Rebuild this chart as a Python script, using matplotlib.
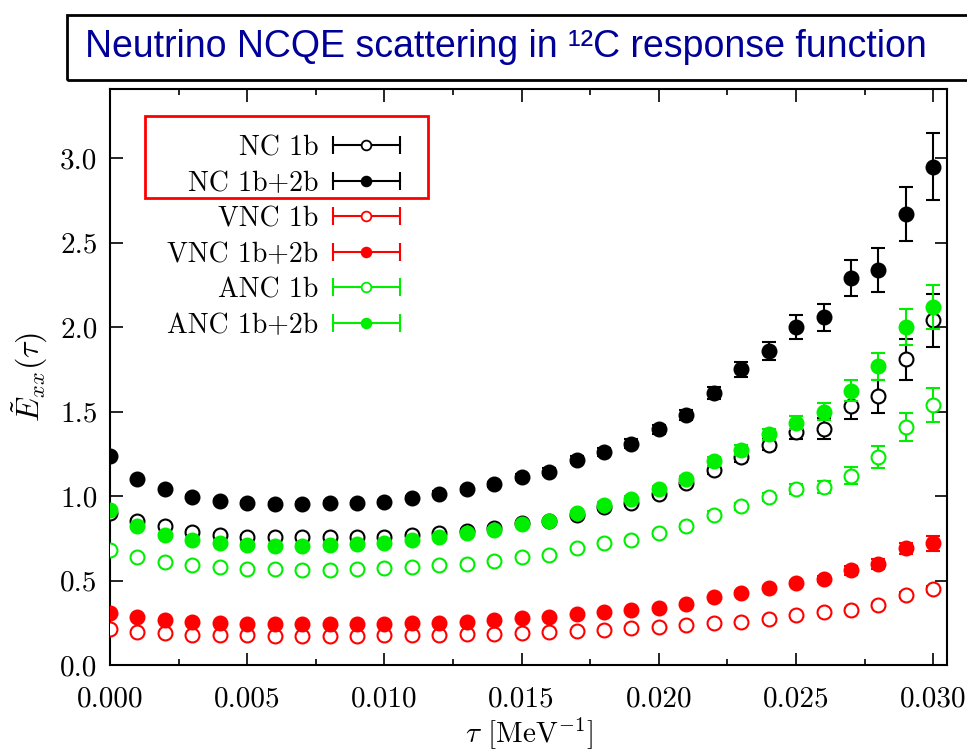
import matplotlib
matplotlib.use('Agg')
import matplotlib.pyplot as plt
from matplotlib.lines import Line2D
from matplotlib.patches import Rectangle
from matplotlib.legend_handler import HandlerLine2D
from matplotlib.ticker import MultipleLocator, FormatStrFormatter

plt.rcParams['font.family'] = 'serif'
plt.rcParams['font.serif'] = ['cmr10']
plt.rcParams['mathtext.fontset'] = 'cm'
plt.rcParams['axes.unicode_minus'] = False
plt.rcParams['axes.formatter.use_mathtext'] = True

tau = [i / 1000 for i in range(31)]

nc_1b = [0.90, 0.855, 0.82, 0.79, 0.77, 0.76, 0.757, 0.757, 0.757, 0.76, 0.76,
         0.77, 0.78, 0.795, 0.81, 0.84, 0.855, 0.89, 0.935, 0.96, 1.01,
         1.08, 1.155, 1.23, 1.305, 1.38, 1.40, 1.535, 1.59, 1.81, 2.04]
nc_1b_err = [0.01] * 15 + [0.012, 0.012, 0.014, 0.015, 0.016, 0.018,
                            0.02, 0.025, 0.03, 0.035, 0.04, 0.06, 0.08, 0.10, 0.12, 0.155]

nc_2b = [1.235, 1.10, 1.04, 0.997, 0.97, 0.96, 0.955, 0.955, 0.96, 0.96, 0.967,
         0.99, 1.015, 1.04, 1.07, 1.115, 1.145, 1.215, 1.26, 1.31, 1.395,
         1.48, 1.61, 1.75, 1.86, 2.00, 2.06, 2.29, 2.34, 2.67, 2.95]
nc_2b_err = [0.01] * 9 + [0.012, 0.012, 0.013, 0.014, 0.015, 0.016, 0.018, 0.02,
                           0.022, 0.024, 0.026, 0.028, 0.03, 0.035, 0.045, 0.055,
                           0.07, 0.08, 0.105, 0.13, 0.16, 0.2]

vnc_1b = [0.215, 0.197, 0.19, 0.18, 0.178, 0.175, 0.172, 0.172, 0.172, 0.172, 0.175,
          0.178, 0.18, 0.182, 0.185, 0.19, 0.195, 0.20, 0.21, 0.22, 0.225,
          0.235, 0.25, 0.255, 0.27, 0.295, 0.315, 0.325, 0.355, 0.415, 0.45]
vnc_1b_err = [0.005] * 21 + [0.006, 0.006, 0.007, 0.008, 0.009, 0.01, 0.012, 0.014, 0.016, 0.02]

vnc_2b = [0.31, 0.285, 0.265, 0.255, 0.248, 0.245, 0.24, 0.24, 0.24, 0.245, 0.245,
          0.248, 0.25, 0.255, 0.265, 0.28, 0.285, 0.30, 0.315, 0.325, 0.34,
          0.36, 0.40, 0.427, 0.457, 0.485, 0.51, 0.56, 0.60, 0.69, 0.72]
vnc_2b_err = [0.006] * 21 + [0.008, 0.01, 0.011, 0.012, 0.014, 0.016, 0.025, 0.03, 0.035, 0.045]

anc_1b = [0.68, 0.64, 0.61, 0.59, 0.58, 0.57, 0.567, 0.565, 0.565, 0.57, 0.575,
          0.58, 0.59, 0.60, 0.615, 0.64, 0.65, 0.69, 0.72, 0.74, 0.78,
          0.82, 0.89, 0.94, 0.995, 1.04, 1.055, 1.12, 1.23, 1.41, 1.54]
anc_1b_err = [0.008] * 15 + [0.01, 0.01, 0.011, 0.012, 0.013, 0.015,
                              0.017, 0.02, 0.022, 0.025, 0.03, 0.035, 0.05, 0.065, 0.083, 0.10]

anc_2b = [0.92, 0.82, 0.77, 0.74, 0.725, 0.71, 0.705, 0.705, 0.71, 0.715, 0.72,
          0.74, 0.76, 0.78, 0.80, 0.835, 0.85, 0.90, 0.95, 0.985, 1.04,
          1.10, 1.205, 1.275, 1.365, 1.435, 1.50, 1.625, 1.77, 2.00, 2.12]
anc_2b_err = [0.01] * 15 + [0.012, 0.012, 0.014, 0.015, 0.016, 0.018,
                             0.02, 0.025, 0.03, 0.035, 0.04, 0.05, 0.06, 0.08, 0.105, 0.13]

labels = ['NC 1b', 'NC 1b+2b', 'VNC 1b', 'VNC 1b+2b', 'ANC 1b', 'ANC 1b+2b']
colors = ['black', 'black', '#ff0000', '#ff0000', '#00ee00', '#00ee00']
filled = [False, True, False, True, False, True]
values = [nc_1b, nc_2b, vnc_1b, vnc_2b, anc_1b, anc_2b]
errors = [nc_1b_err, nc_2b_err, vnc_1b_err, vnc_2b_err, anc_1b_err, anc_2b_err]

fig = plt.figure(figsize=(9.67, 7.52), dpi=100)
ax = fig.add_axes([110 / 967, 87 / 752, 837 / 967, 576 / 752])

# draw order: open series first, filled on top like the original
order = [4, 0, 2, 5, 1, 3]
for i in order:
    c = colors[i]
    ax.errorbar(tau, values[i], yerr=errors[i], fmt='o', color=c, ecolor=c,
                mfc=c if filled[i] else 'white', mec=c, ms=10, mew=1.5,
                elinewidth=1.5, capsize=5, capthick=1.5, zorder=3 + filled[i])

ax.set_xlim(0, 0.0305)
ax.set_ylim(0, 3.41)
ax.xaxis.set_major_locator(MultipleLocator(0.005))
ax.xaxis.set_minor_locator(MultipleLocator(0.0025))
ax.yaxis.set_major_locator(MultipleLocator(0.5))
ax.xaxis.set_major_formatter(FormatStrFormatter('%.3f'))
ax.yaxis.set_major_formatter(FormatStrFormatter('%.1f'))
ax.tick_params(which='both', direction='in', top=True, right=True, labelsize=21)
ax.tick_params(axis='x', which='major', length=9, width=1.2, pad=15)
ax.tick_params(axis='x', which='minor', length=4.5, width=1.2)
ax.tick_params(axis='y', which='major', length=9, width=1.2, pad=9)
for s in ax.spines.values():
    s.set_linewidth(1.5)

ax.set_xlabel(r'$\tau$ [MeV$^{-1}$]', fontsize=21, labelpad=2)
ax.set_ylabel(r'$\tilde{E}_{xx}(\tau)$', fontsize=23, labelpad=7)

# gnuplot-like legend: label, then a horizontal bar with caps and a marker
handles = []
hmap = {}
for i in range(6):
    c = colors[i]
    cap = Line2D([], [], color=c, lw=1.5, marker='|', ms=13, mew=1.5)
    dot = Line2D([], [], ls='none', marker='o', ms=7, mew=1.3, mec=c,
                 mfc=c if filled[i] else 'white')
    hmap[cap] = HandlerLine2D(numpoints=2)
    handles.append((cap, dot))
ax.legend(handles, labels, handler_map=hmap, loc='upper left',
          bbox_to_anchor=(153 / 967, 1 - 121 / 752), bbox_transform=fig.transFigure,
          markerfirst=False, frameon=False, fontsize=20, handlelength=3.0,
          handletextpad=0.24, labelspacing=0.33, borderpad=0, numpoints=1)

# red highlight box around the NC entries
fig.patches.append(Rectangle((145 / 967, 1 - 198 / 752), 283 / 967, 82 / 752,
                             transform=fig.transFigure, fill=False,
                             edgecolor='#ff0000', lw=2))

# title banner
fig.patches.append(Rectangle((67 / 967, 1 - 80 / 752), 1.0, 65 / 752,
                             transform=fig.transFigure, fill=False,
                             edgecolor='black', lw=2, clip_on=False))
fig.text(85 / 967, 1 - 47 / 752, 'Neutrino NCQE scattering in \u00b9\u00b2C response function',
         family='Liberation Sans', fontsize=27, color='#000099', va='center', ha='left')

fig.savefig('out.png', dpi=100)
